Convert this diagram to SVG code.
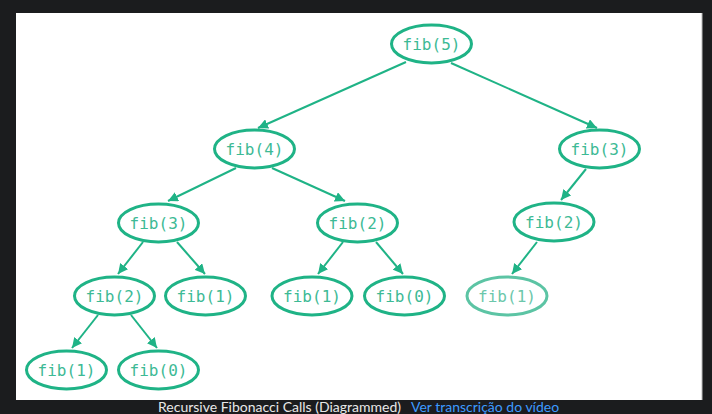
<svg xmlns="http://www.w3.org/2000/svg" width="712" height="414" viewBox="0 0 712 414">
<defs>
<style>
.n ellipse{fill:#fff;stroke:#1fb386;stroke-width:3}
.n text{font-family:"DejaVu Sans Mono","Liberation Mono",monospace;font-size:16px;fill:#3dba95;text-anchor:middle;dominant-baseline:central}
.f ellipse{stroke:#5cc4a4}
.f text{fill:#6cc7ab}
.e line{stroke:#1fb386;stroke-width:2;marker-end:url(#a)}
.cap{font-family:Lato,"Open Sans","Liberation Sans",sans-serif;font-size:14px}
</style>
<marker id="a" viewBox="0 0 10 10" refX="10" refY="5" markerWidth="5" markerHeight="5" orient="auto" markerUnits="strokeWidth">
<path d="M0,0L10,5L0,10z" fill="#1fb386"/>
</marker>
</defs>
<rect width="712" height="414" fill="#1b1c1e"/>
<rect x="16" y="13" width="686" height="387" fill="#fff"/>
<line x1="702" y1="13" x2="702" y2="400" stroke="#bbb" stroke-width="1"/>
<g id="edges" class="e">
<line x1="406" y1="62" x2="258" y2="128"/>
<line x1="451" y1="63" x2="597" y2="128"/>
<line x1="236" y1="168" x2="168" y2="201"/>
<line x1="272" y1="168" x2="345" y2="201"/>
<line x1="586" y1="169" x2="561" y2="200"/>
<line x1="143" y1="242" x2="118" y2="274"/>
<line x1="177" y1="242" x2="205" y2="274"/>
<line x1="343" y1="242" x2="318" y2="274"/>
<line x1="376" y1="242" x2="403" y2="274"/>
<line x1="537" y1="242" x2="512" y2="274"/>
<line x1="98" y1="315" x2="72" y2="348"/>
<line x1="131" y1="315" x2="157" y2="348"/>
</g>
<g id="n5" class="n"><ellipse cx="431.5" cy="44" rx="40" ry="19"/><text x="431.5" y="44">fib(5)</text></g>
<g id="n4" class="n"><ellipse cx="254.5" cy="149" rx="40" ry="19"/><text x="254.5" y="149">fib(4)</text></g>
<g id="n3r" class="n"><ellipse cx="599.5" cy="149" rx="40" ry="19"/><text x="599.5" y="149">fib(3)</text></g>
<g id="n3l" class="n"><ellipse cx="158.5" cy="223" rx="40" ry="19"/><text x="158.5" y="223">fib(3)</text></g>
<g id="n2m" class="n"><ellipse cx="357.5" cy="223" rx="40" ry="19"/><text x="357.5" y="223">fib(2)</text></g>
<g id="n2r" class="n"><ellipse cx="554" cy="222" rx="40" ry="19"/><text x="554" y="222">fib(2)</text></g>
<g id="n2l" class="n"><ellipse cx="114.5" cy="296" rx="40" ry="19"/><text x="114.5" y="296">fib(2)</text></g>
<g id="n1a" class="n"><ellipse cx="205.5" cy="296" rx="40" ry="19"/><text x="205.5" y="296">fib(1)</text></g>
<g id="n1b" class="n"><ellipse cx="312" cy="296" rx="40" ry="19"/><text x="312" y="296">fib(1)</text></g>
<g id="n0a" class="n"><ellipse cx="404.5" cy="296" rx="40" ry="19"/><text x="404.5" y="296">fib(0)</text></g>
<g id="n1c" class="n f"><ellipse cx="507" cy="296" rx="40" ry="19"/><text x="507" y="296">fib(1)</text></g>
<g id="n1d" class="n"><ellipse cx="66.5" cy="370" rx="40" ry="19"/><text x="66.5" y="370">fib(1)</text></g>
<g id="n0b" class="n"><ellipse cx="158.5" cy="370" rx="40" ry="19"/><text x="158.5" y="370">fib(0)</text></g>
<text class="cap" x="158" y="412" fill="#e8e8e8">Recursive Fibonacci Calls (Diagrammed)</text>
<text class="cap" x="411" y="412" fill="#3d9bff">Ver transcrição do vídeo</text>
</svg>
